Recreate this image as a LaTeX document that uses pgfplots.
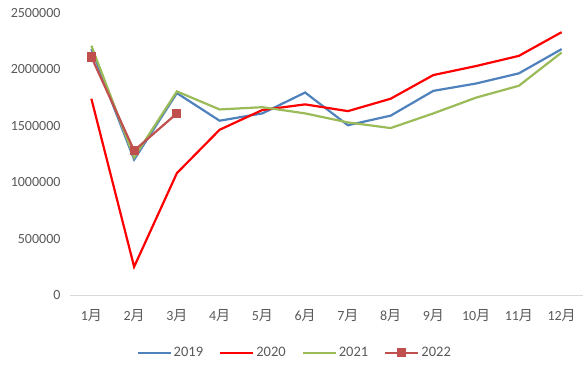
\documentclass[border=0pt]{standalone}
\usepackage{fontspec}
\setmainfont{Carlito}
\newfontfamily\cjk{Noto Sans CJK SC}
\usepackage{pgfplots}
\pgfplotsset{compat=1.18}
\definecolor{c19}{HTML}{4F81BD}
\definecolor{c20}{HTML}{FF0000}
\definecolor{c21}{HTML}{9BBB59}
\definecolor{c22}{HTML}{C0504D}
\definecolor{txt}{HTML}{595959}
\begin{document}
\begin{tikzpicture}
\begin{axis}[
  scale only axis,
  width=513pt, height=282pt,
  xmin=0.5, xmax=12.5,
  ymin=0, ymax=2500000,
  ytick={0,500000,1000000,1500000,2000000,2500000},
  scaled y ticks=false,
  yticklabel style={/pgf/number format/fixed,/pgf/number format/1000 sep={}, font=\fontsize{14}{16}\selectfont, text=txt, xshift=-6pt},
  /pgf/number format/assume math mode=true,
  xtick={1,...,12},
  xticklabels={1{\cjk 月},2{\cjk 月},3{\cjk 月},4{\cjk 月},5{\cjk 月},6{\cjk 月},7{\cjk 月},8{\cjk 月},9{\cjk 月},10{\cjk 月},11{\cjk 月},12{\cjk 月}},
  xticklabel style={font=\fontsize{14}{16}\selectfont, text=txt, yshift=-11pt},
  major tick length=0pt,
  axis y line*=left,
  y axis line style={draw=none},
  axis x line*=bottom,
  x axis line style={draw=black!15, line width=0.8pt, -},
  legend columns=4,
  legend style={at={(0.438,-0.205)}, anchor=center, draw=none, font=\fontsize{14.5}{16}\selectfont, text=txt,
    /tikz/every even column/.append style={column sep=14pt}},
  legend image code/.code={\draw[mark repeat=2,mark phase=2,#1] plot coordinates {(0pt,0pt)(16.5pt,0pt)(33pt,0pt)};},
  every axis plot/.append style={line width=2.2pt},
]
\addplot[c19, no markers] coordinates {(1,2180000)(2,1200000)(3,1790000)(4,1545000)(5,1610000)(6,1795000)(7,1505000)(8,1590000)(9,1810000)(10,1875000)(11,1965000)(12,2180000)};
\addlegendentry{2019}
\addplot[c20, no markers] coordinates {(1,1740000)(2,250000)(3,1080000)(4,1465000)(5,1640000)(6,1690000)(7,1630000)(8,1740000)(9,1950000)(10,2030000)(11,2120000)(12,2330000)};
\addlegendentry{2020}
\addplot[c21, no markers] coordinates {(1,2210000)(2,1220000)(3,1805000)(4,1645000)(5,1665000)(6,1610000)(7,1530000)(8,1480000)(9,1610000)(10,1750000)(11,1855000)(12,2150000)};
\addlegendentry{2021}
\addplot[c22, mark=square*, mark size=3.5pt, mark options={solid}] coordinates {(1,2110000)(2,1280000)(3,1610000)};
\addlegendentry{2022}
\end{axis}
\path[use as bounding box] (-70pt,-70pt) rectangle (516pt,295pt);
\end{tikzpicture}
\end{document}
